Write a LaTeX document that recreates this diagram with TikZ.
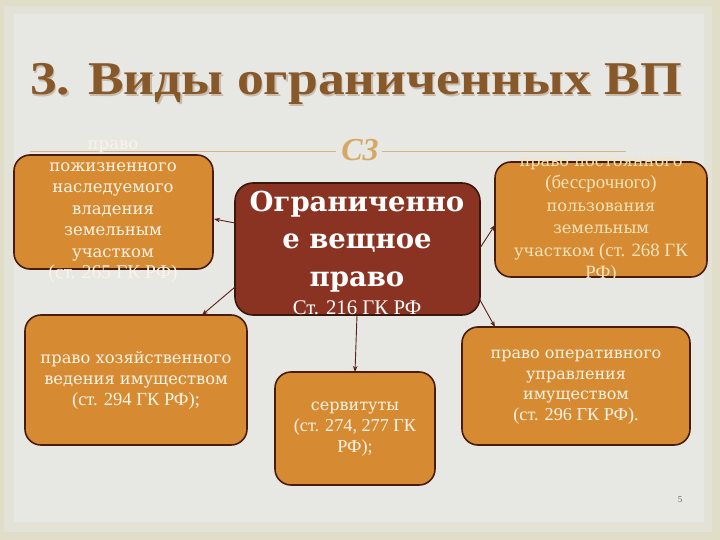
\documentclass[tikz,border=0pt]{standalone}
\usepackage{fontspec}
\setmainfont{Liberation Serif}
\newfontfamily\dvs{DejaVu Serif}
\usetikzlibrary{arrows.meta}
\definecolor{bgout}{HTML}{E0DDC8}
\definecolor{bgmid}{HTML}{E3E2D6}
\definecolor{bgin}{HTML}{E7E7E4}
\definecolor{titlec}{HTML}{87592A}
\definecolor{orng}{HTML}{D68A31}
\definecolor{bord}{HTML}{4A1C10}
\definecolor{redb}{HTML}{8A3323}
\definecolor{txtw}{HTML}{FBF4E6}
\definecolor{txty}{HTML}{F4E4BC}
\definecolor{orn}{HTML}{D4B585}
\definecolor{ornglyph}{HTML}{D5A964}
\definecolor{arrc}{HTML}{5A2016}
\tikzset{
  obox/.style={draw=bord, line width=1.6pt, fill=orng, rounded corners=16pt},
  cbox/.style={draw=bord!80!black, line width=1.6pt, fill=redb, rounded corners=18pt},
  btxt/.style={align=center, text=txtw, inner sep=0pt},
  arr/.style={draw=arrc, line width=0.9pt, -{Stealth[length=6pt,width=4.5pt]}},
}
\begin{document}
\begin{tikzpicture}[x=1pt,y=-1pt]
\useasboundingbox (0,0) rectangle (720,540);
% background
\fill[bgout] (0,0) rectangle (720,540);
\fill[bgmid] (4,6) rectangle (712,532);
\fill[bgin] (14,14) rectangle (704,522);
% title
\node[anchor=base west, inner sep=0pt, text=titlec!30!bgin, font=\fontsize{47}{47}\selectfont\bfseries] (tsh) at (31.2,96.2) {\scalebox{1.14}[1]{3. Виды ограниченных ВП}};
\node[anchor=base west, inner sep=0pt, text=titlec, font=\fontsize{47}{47}\selectfont\bfseries] (title) at (30,95) {\scalebox{1.14}[1]{3. Виды ограниченных ВП}};
% ornament
\draw[orn, line width=1pt] (30,152) -- (336,152);
\draw[orn, line width=1pt] (382,152) -- (626,152);
\node[text=ornglyph, inner sep=0pt, font=\fontsize{32}{32}\selectfont\bfseries\itshape] (orn) at (360,150) {C3};
% boxes
\draw[obox] (14,155) rectangle (213,269);
\draw[cbox] (235,183) rectangle (480,315);
\draw[obox] (495,162) rectangle (707,277);
\draw[obox] (25,315) rectangle (247,445);
\draw[obox] (275,372) rectangle (435,485);
\draw[obox] (462,327) rectangle (690,445);
% texts
\node[btxt, font=\fontsize{16.5}{21.5}\selectfont] (tl) at (113,212) {{\dvs право}\\{\dvs пожизненного}\\{\dvs наследуемого}\\{\dvs владения}\\{\dvs земельным}\\{\dvs участком}\\{\fontsize{19.5}{21.5}\selectfont(ст. 265 ГК РФ)}};
\node[align=center, text=white, inner sep=0pt, font=\fontsize{27.5}{37.5}\selectfont] (c) at (357,253) {{\dvs\bfseries Ограниченно}\\{\dvs\bfseries е вещное}\\{\dvs\bfseries право}\\[-9pt]{\fontsize{20.8}{20}\selectfont Ст. 216 ГК РФ}};
\node[btxt, text=txty, font=\fontsize{16.2}{22.5}\selectfont] (tr) at (601,220) {{\dvs право постоянного}\\{\fontsize{18.8}{22.5}\selectfont(бессрочного)}\\{\dvs пользования}\\{\dvs земельным}\\{\dvs участком}{\fontsize{18.8}{22.5}\selectfont\ (ст. 268 ГК}\\{\fontsize{18.8}{22.5}\selectfont РФ)}};
\node[btxt, font=\fontsize{16.3}{21}\selectfont] (bl) at (136,380) {{\dvs право хозяйственного}\\{\dvs ведения имуществом}\\{\fontsize{18.5}{21}\selectfont(ст. 294 ГК РФ);}};
\node[btxt, font=\fontsize{16}{21}\selectfont] (bc) at (355,429) {{\dvs сервитуты}\\{\fontsize{18.2}{21}\selectfont(ст. 274, 277 ГК}\\{\fontsize{18.2}{21}\selectfont РФ);}};
\node[btxt, font=\fontsize{16}{20.5}\selectfont] (br) at (576,387) {{\dvs право оперативного}\\{\dvs управления}\\{\dvs имуществом}\\{\fontsize{18.2}{20.5}\selectfont(ст. 296 ГК РФ).}};
% connector endpoints
\coordinate (a1s) at (235,223); \coordinate (a1e) at (214,219);
\coordinate (a2s) at (235,287); \coordinate (a2e) at (202,315);
\coordinate (a3s) at (357,315); \coordinate (a3e) at (355,372);
\coordinate (a4s) at (480,248); \coordinate (a4e) at (495,225);
\coordinate (a5s) at (480,300); \coordinate (a5e) at (495,327);
\draw[arr] (a1s) -- (a1e);
\draw[arr] (a2s) -- (a2e);
\draw[arr] (a3s) -- (a3e);
\draw[arr] (a4s) -- (a4e);
\draw[arr] (a5s) -- (a5e);
% page number
\node[text=gray!80!black, font=\fontsize{9}{9}\selectfont] (pg) at (680,500) {5};
\end{tikzpicture}
\end{document}
